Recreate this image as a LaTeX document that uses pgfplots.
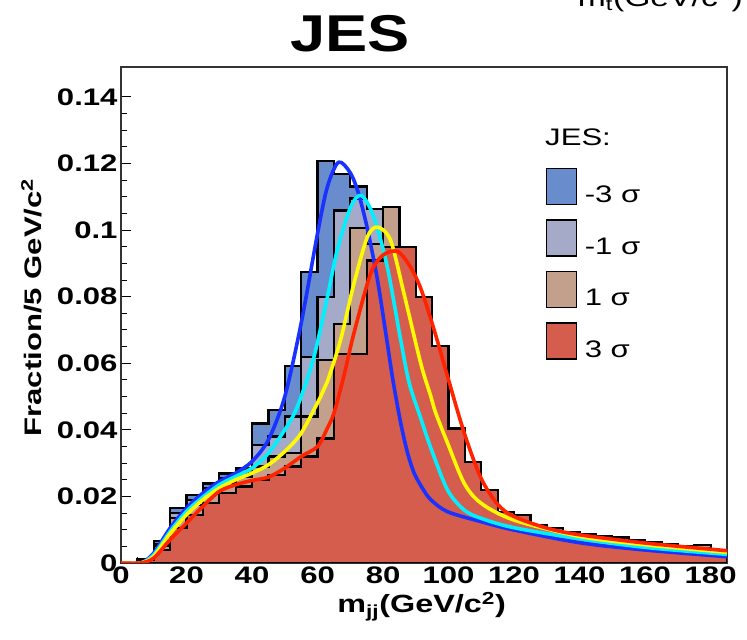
\documentclass[border=0pt]{standalone}
\usepackage{graphicx}
\usepackage{pgfplots}
\pgfplotsset{compat=1.18}
\usepackage{fontspec}
\setmainfont{Liberation Sans}
\definecolor{hA}{RGB}{105,140,205}
\definecolor{hB}{RGB}{165,170,200}
\definecolor{hC}{RGB}{195,160,140}
\definecolor{hD}{RGB}{213,93,78}
\definecolor{cA}{RGB}{25,50,255}
\definecolor{cB}{RGB}{0,240,255}
\definecolor{cC}{RGB}{255,250,0}
\definecolor{cD}{RGB}{255,35,0}
\newcommand{\sx}[1]{\scalebox{1.3}[1]{#1}}
\begin{document}
\begin{tikzpicture}
\useasboundingbox (-121bp,-77bp) rectangle (626bp,563bp);
\node[anchor=base east, inner sep=0pt, font=\fontsize{26}{26}\selectfont] at (622bp,556bp) {\sx{m\textsubscript{t}(GeV/c\textsuperscript{2})}};
\begin{axis}[
  at={(0,0)}, anchor=south west,
  width=606bp, height=496bp, scale only axis,
  xmin=0, xmax=185, ymin=0, ymax=0.149,
  xtick={0,20,...,180},
  ytick={0,0.02,0.04,0.06,0.08,0.1,0.12,0.14},
  minor x tick num=3, minor y tick num=3,
  tick pos=left, tick align=inside,
  major tick length=10bp, minor tick length=6bp,
  every tick/.style={black, line width=1bp},
  axis line style={line width=1.2bp, black!80},
  scaled y ticks=false,
  /pgf/number format/assume math mode=true,
  tick label style={font=\fontsize{24}{24}\selectfont\bfseries},
  xticklabel={\sx{\pgfmathprintnumber{\tick}}},
  yticklabel={\sx{\pgfmathprintnumber[fixed,precision=2]{\tick}}},
  xlabel={\sx{m\textsubscript{jj}(GeV/c\textsuperscript{2})}},
  xlabel style={at={(axis description cs:0.496,-0.1008)}, anchor=base, font=\fontsize{25}{25}\selectfont\bfseries},
  ylabel={\sx{Fraction/5 GeV/c\textsuperscript{2}}},
  ylabel style={at={(axis description cs:-0.1304,0.515)}, anchor=base, font=\fontsize{24}{24}\selectfont\bfseries},
  title={\scalebox{1.22}[1]{JES}},
  title style={at={(axis description cs:0.378,1)}, anchor=base, yshift=10bp, font=\fontsize{52}{52}\selectfont\bfseries},
  legend style={at={(0.7013,0.7964)}, anchor=north west, draw=none, fill=none,
    inner sep=0pt, outer sep=0pt, row sep=14bp, column sep=0pt,
    font=\fontsize{24}{24}\selectfont, nodes={inner sep=0pt}},
  legend cell align=left,
  legend image code/.code={\draw[#1, draw=black, line width=1.5bp] (0bp,-9.5bp) rectangle (30bp,26.5bp); \path (37bp,0bp);},
]
% -3 sigma histogram
\addplot[const plot, fill=hA, draw=black, line width=2.2bp] coordinates {
(0,0) (5,0.0012) (10,0.0066) (15,0.0165) (20,0.0204) (25,0.0239) (30,0.0269) (35,0.0284)
(40,0.0419) (45,0.0459) (50,0.0592) (55,0.0874) (60,0.1207) (65,0.1169) (70,0.1131) (75,0.090)
(80,0.062) (85,0.036) (90,0.022) (95,0.017) (100,0.0145) (105,0.013) (110,0.0115) (115,0.0105)
(120,0.0095) (125,0.0088) (130,0.0080) (135,0.0072) (140,0.0065) (145,0.0058) (150,0.0052)
(155,0.0046) (160,0.0041) (165,0.0036) (170,0.0031) (175,0.0027) (180,0.0018) (185,0.0018)
} \closedcycle;
\addlegendentry{\sx{-3 σ}}
% -1 sigma histogram
\addplot[const plot, fill=hB, draw=black, line width=2.2bp] coordinates {
(0,0) (5,0.0010) (10,0.0058) (15,0.0150) (20,0.0190) (25,0.0225) (30,0.0255) (35,0.0270)
(40,0.0354) (45,0.0380) (50,0.0440) (55,0.0619) (60,0.0799) (65,0.1059) (70,0.1095) (75,0.1064)
(80,0.085) (85,0.055) (90,0.032) (95,0.021) (100,0.017) (105,0.0145) (110,0.013) (115,0.0118)
(120,0.0106) (125,0.0097) (130,0.0088) (135,0.0080) (140,0.0073) (145,0.0066) (150,0.0060)
(155,0.0054) (160,0.0049) (165,0.0044) (170,0.0039) (175,0.0034) (180,0.0019) (185,0.0019)
} \closedcycle;
\addlegendentry{\sx{-1 σ}}
% +1 sigma histogram
\addplot[const plot, fill=hC, draw=black, line width=2.2bp] coordinates {
(0,0) (5,0.0010) (10,0.0050) (15,0.0135) (20,0.0175) (25,0.0210) (30,0.0240) (35,0.0260)
(40,0.0290) (45,0.0320) (50,0.0330) (55,0.0440) (60,0.0609) (65,0.0719) (70,0.1006) (75,0.0959)
(80,0.1069) (85,0.078) (90,0.055) (95,0.036) (100,0.025) (105,0.019) (110,0.016) (115,0.0138)
(120,0.0122) (125,0.0110) (130,0.0098) (135,0.0090) (140,0.0082) (145,0.0075) (150,0.0079)
(155,0.0062) (160,0.0056) (165,0.0050) (170,0.0045) (175,0.0054) (180,0.0019) (185,0.0019)
} \closedcycle;
\addlegendentry{\sx{1 σ}}
% +3 sigma histogram
\addplot[const plot, fill=hD, draw=black, line width=2.2bp] coordinates {
(0,0) (5,0.0008) (10,0.0040) (15,0.0105) (20,0.0145) (25,0.0180) (30,0.0210) (35,0.0230)
(40,0.0250) (45,0.0265) (50,0.0290) (55,0.0320) (60,0.0374) (65,0.0629) (70,0.0629) (75,0.0909)
(80,0.0949) (85,0.0949) (90,0.0799) (95,0.0651) (100,0.0404) (105,0.0304) (110,0.0219) (115,0.0154)
(120,0.0144) (125,0.0114) (130,0.0104) (135,0.0094) (140,0.0086) (145,0.0080) (150,0.0072)
(155,0.0069) (160,0.0064) (165,0.0057) (170,0.0052) (175,0.0045) (180,0.0020) (185,0.0020)
} \closedcycle;
\addlegendentry{\sx{3 σ}}
% fitted curves
\addplot[forget plot, smooth, color=cA, line width=3.6bp, line join=round] coordinates {
(0,0) (6,0) (10,0.003) (15,0.0105) (20,0.0165) (25,0.021) (30,0.0245) (35,0.027) (40,0.0305)
(45,0.037) (50,0.050) (55,0.072) (60,0.099) (63,0.113) (66.4,0.1204) (70,0.1172) (72.5,0.111)
(75.2,0.1005) (78.3,0.085) (81.3,0.066) (83,0.055) (85.4,0.042) (87.5,0.033) (89.5,0.027)
(92,0.0225) (94.6,0.019) (99.7,0.0154) (110,0.0124) (120,0.0099) (140,0.0061) (160,0.0039) (185,0.0019)
};
\addplot[forget plot, smooth, color=cB, line width=3.6bp, line join=round] coordinates {
(0,0) (6,0) (10,0.0025) (15,0.0095) (20,0.0155) (25,0.0198) (30,0.0235) (35,0.026) (40,0.0285)
(45,0.033) (50,0.040) (52.7,0.0445) (55,0.050) (58.9,0.0619) (63,0.0799) (66,0.0939) (70.1,0.1069)
(73.4,0.1104) (77.2,0.1039) (81.3,0.0889) (85.4,0.0669) (88,0.054) (91.5,0.0435) (94.6,0.0345)
(99.7,0.0219) (104.8,0.0159) (110,0.0134) (120,0.0106) (140.5,0.0072) (161,0.0046) (185,0.0026)
};
\addplot[forget plot, smooth, color=cC, line width=3.6bp, line join=round] coordinates {
(0,0) (6,0) (10,0.002) (15,0.0088) (20,0.0145) (25,0.019) (30,0.0225) (35,0.025) (40,0.027)
(45,0.0295) (50,0.0335) (55,0.039) (60.9,0.0499) (63,0.0545) (67,0.0669) (71.1,0.0839) (75.2,0.0979)
(78.3,0.1009) (82.3,0.0969) (86.4,0.0809) (91.5,0.060) (94.6,0.050) (96.1,0.045) (99.7,0.036)
(104.8,0.0239) (110,0.0179) (120,0.0129) (140.5,0.0079) (161,0.0054) (185,0.0032)
};
\addplot[forget plot, smooth, color=cD, line width=3.6bp, line join=round] coordinates {
(0,0) (6,0) (10,0.0015) (15,0.007) (20,0.012) (25,0.017) (30,0.0215) (35,0.0235) (40,0.0248)
(45,0.0258) (50,0.0285) (55,0.032) (60,0.035) (63,0.0405) (65,0.045) (68,0.056) (71.1,0.069)
(76.2,0.0869) (80,0.0925) (84.4,0.0936) (88,0.0895) (91.5,0.0825) (95.6,0.070) (99.7,0.056)
(104.8,0.039) (109.9,0.0255) (115,0.0176) (120.1,0.0139) (130.3,0.0104) (140.5,0.0084) (160.9,0.0059) (185,0.0037)
};
\node[anchor=base west, inner sep=0pt, font=\fontsize{24}{24}\selectfont] at (rel axis cs:0.6997,0.8427) {\sx{JES:}};
\end{axis}
\end{tikzpicture}
\end{document}
